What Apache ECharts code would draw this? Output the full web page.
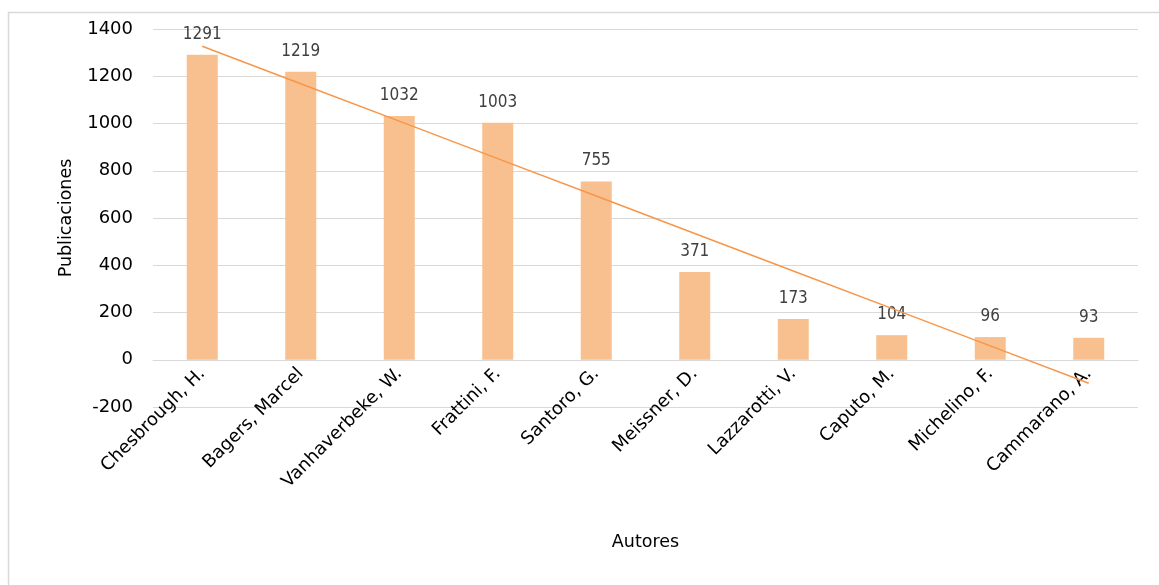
<!DOCTYPE html>
<html>
<head>
<meta charset="utf-8">
<script src="https://cdn.jsdelivr.net/npm/echarts@6/dist/echarts.min.js"></script>
<style>
html,body{margin:0;padding:0;background:#fff;}
#c{width:1159px;height:585px;}
</style>
</head>
<body>
<div id="c"></div>
<script>
const categories = ['Chesbrough, H.', 'Bagers, Marcel', 'Vanhaverbeke, W.', 'Frattini, F.', 'Santoro, G.', 'Meissner, D.', 'Lazzarotti, V.', 'Caputo, M.', 'Michelino, F.', 'Cammarano, A.'];
const publicaciones = [1291, 1219, 1032, 1003, 755, 371, 173, 104, 96, 93];
const yTicks = { min: -200, max: 1400, interval: 200 };

// Linear trendline (least squares) derived from the bar values
const n = publicaciones.length;
const xs = publicaciones.map((_, i) => i + 1);
const mx = xs.reduce((a, b) => a + b, 0) / n;
const my = publicaciones.reduce((a, b) => a + b, 0) / n;
let sxy = 0, sxx = 0;
for (let i = 0; i < n; i++) { sxy += (xs[i] - mx) * (publicaciones[i] - my); sxx += (xs[i] - mx) ** 2; }
const slope = sxy / sxx;
const trend = xs.map(x => +(my + slope * (x - mx)).toFixed(2));

const FONT = 'DejaVu Sans';
const chart = echarts.init(document.getElementById('c'), null, { renderer: 'canvas' });
chart.setOption({
  animation: false,
  backgroundColor: '#ffffff',
  graphic: [{
    type: 'rect', silent: true, z: -1,
    shape: { x: 8.5, y: 12.5, width: 1170, height: 600 },
    style: { fill: 'none', stroke: '#d9d9d9', lineWidth: 1.5 }
  }],
  grid: { left: 153, right: 21, top: 29, bottom: 178, containLabel: false, outerBoundsMode: 'none' },
  xAxis: {
    type: 'category',
    data: categories,
    name: 'Autores',
    nameLocation: 'middle',
    nameGap: 126,
    nameTextStyle: { fontFamily: FONT, fontSize: 17.5, color: '#000' },
    axisLine: { onZero: true, lineStyle: { color: '#d9d9d9', width: 1 } },
    axisTick: { show: false },
    axisLabel: { rotate: 45, interval: 0, margin: -36, fontFamily: FONT, fontSize: 18, color: '#000' }
  },
  yAxis: {
    type: 'value',
    min: yTicks.min, max: yTicks.max, interval: yTicks.interval,
    name: 'Publicaciones',
    nameLocation: 'middle',
    nameGap: 78,
    nameRotate: 90,
    nameTextStyle: { fontFamily: FONT, fontSize: 17.5, color: '#000' },
    axisLine: { show: false },
    axisTick: { show: false },
    axisLabel: { margin: 20, fontFamily: FONT, fontSize: 18, color: '#000', formatter: v => String(v) },
    splitLine: { lineStyle: { color: '#d9d9d9', width: 1 } }
  },
  series: [{
    type: 'bar',
    data: publicaciones,
    barWidth: 31,
    itemStyle: { color: '#F9C08F' },
    label: { show: true, position: 'top', distance: 12, fontFamily: 'DejaVu Sans Condensed, Liberation Sans', fontSize: 17, color: '#404040' },
    z: 2
  }, {
    type: 'line',
    data: trend,
    symbol: 'none',
    silent: true,
    lineStyle: { color: '#F7964A', width: 1.5 },
    z: 3
  }]
});
</script>
</body>
</html>
